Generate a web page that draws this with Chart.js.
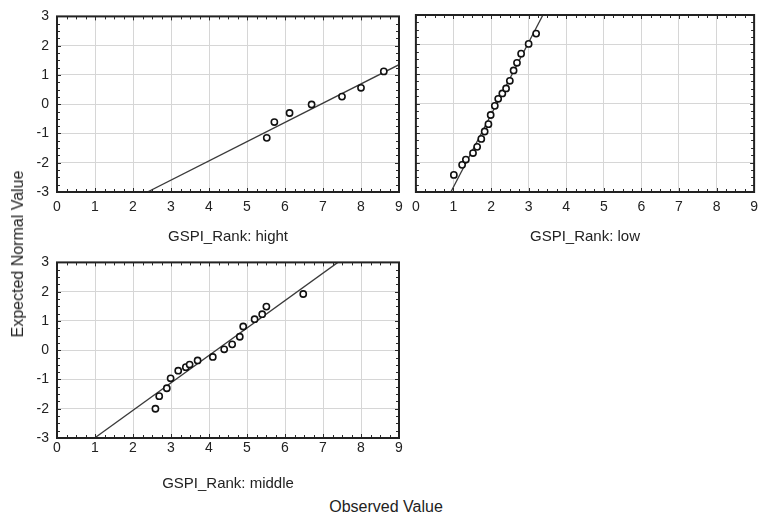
<!DOCTYPE html>
<html>
<head>
<meta charset="utf-8">
<script src="https://cdn.jsdelivr.net/npm/chart.js@4/dist/chart.umd.min.js"></script>
<style>
  html, body { margin: 0; padding: 0; background: #fff; }
  #wrap { position: relative; width: 770px; height: 518px; overflow: hidden; font-family: "Liberation Sans", Arial, sans-serif; color: #222; }
  canvas { position: absolute; }
  .lbl { position: absolute; font-size: 16px; white-space: nowrap; color: #222; }
</style>
</head>
<body>
<div id="wrap">
  <canvas id="c1" width="410" height="250" style="left:0px;top:0px;width:410px;height:250px"></canvas>
  <canvas id="c2" width="360" height="250" style="left:405px;top:0px;width:360px;height:250px"></canvas>
  <canvas id="c3" width="410" height="250" style="left:0px;top:246px;width:410px;height:250px"></canvas>
  <div class="lbl" id="ylab" style="left:18px;top:254px;transform:translate(-50%,-50%) rotate(-90deg);">Expected Normal Value</div>
  <div class="lbl" id="xlab" style="left:386px;top:507px;transform:translate(-50%,-50%);">Observed Value</div>
</div>
<script>
// ---- Data ----
const xTicks = [0, 1, 2, 3, 4, 5, 6, 7, 8, 9];
const yTicks = [-3, -2, -1, 0, 1, 2, 3];

const panelTitles = ["GSPI_Rank: hight", "GSPI_Rank: low", "GSPI_Rank: middle"];

const hightX = [5.52, 5.72, 6.12, 6.70, 7.50, 8.00, 8.60];
const hightY = [-1.15, -0.61, -0.30, -0.01, 0.26, 0.56, 1.12];
const hightLineX = [2.38, 9.0];
const hightLineY = [-3.0, 1.35];

const lowX = [1.01, 1.23, 1.33, 1.52, 1.63, 1.74, 1.83, 1.93, 1.99, 2.10, 2.19, 2.30, 2.40, 2.50, 2.60, 2.69, 2.80, 3.00, 3.20];
const lowY = [-2.42, -2.08, -1.90, -1.68, -1.47, -1.20, -0.95, -0.70, -0.39, -0.08, 0.16, 0.34, 0.51, 0.77, 1.12, 1.38, 1.69, 2.02, 2.37];
const lowLineX = [0.93, 3.38];
const lowLineY = [-3.0, 3.0];

const middleX = [2.59, 2.69, 2.89, 2.99, 3.19, 3.39, 3.49, 3.70, 4.10, 4.40, 4.61, 4.81, 4.90, 5.20, 5.40, 5.51, 6.48];
const middleY = [-2.00, -1.57, -1.30, -0.96, -0.70, -0.58, -0.49, -0.35, -0.23, 0.03, 0.20, 0.46, 0.81, 1.06, 1.23, 1.49, 1.92];
const middleLineX = [0.99, 7.39];
const middleLineY = [-3.0, 3.0];

// ---- helpers ----
const FONT = "'Liberation Sans', Arial, sans-serif";
const pts = (xs, ys) => xs.map((x, i) => ({ x: x, y: ys[i] }));

const frameTicks = {
  id: 'frameTicks',
  afterDatasetsDraw(chart) {
    const ctx = chart.ctx;
    const a = chart.chartArea;
    const xs = chart.scales.x, ys = chart.scales.y;
    ctx.save();
    ctx.strokeStyle = '#2a2a2a';
    ctx.lineWidth = 1;
    ctx.beginPath();
    for (let v = xs.min; v <= xs.max + 1e-9; v += 0.25) {
      const px = Math.round(xs.getPixelForValue(v)) + 0.5;
      const len = Math.abs(v - Math.round(v)) < 1e-9 ? 4 : 3;
      ctx.moveTo(px, a.bottom); ctx.lineTo(px, a.bottom - len);
      ctx.moveTo(px, a.top); ctx.lineTo(px, a.top + len);
    }
    for (let v = ys.min; v <= ys.max + 1e-9; v += 0.25) {
      const py = Math.round(ys.getPixelForValue(v)) + 0.5;
      const len = Math.abs(v - Math.round(v)) < 1e-9 ? 4 : 3;
      ctx.moveTo(a.left, py); ctx.lineTo(a.left + len, py);
      ctx.moveTo(a.right, py); ctx.lineTo(a.right - len, py);
    }
    ctx.stroke();
    ctx.lineWidth = 2;
    ctx.strokeStyle = '#222';
    ctx.strokeRect(a.left, a.top, a.right - a.left, a.bottom - a.top);
    ctx.restore();
  }
};

function makePanel(id, title, xs, ys, lx, ly, opts) {
  const ctx = document.getElementById(id);
  return new Chart(ctx, {
    type: 'scatter',
    data: {
      datasets: [
        {
          data: pts(xs, ys),
          order: 0,
          pointRadius: 3.1,
          pointHoverRadius: 3.1,
          pointBorderWidth: 1.6,
          pointBorderColor: '#111',
          pointBackgroundColor: '#fff',
          showLine: false
        },
        {
          type: 'line',
          data: pts(lx, ly),
          order: 1,
          borderColor: '#3a3a3a',
          borderWidth: 1.3,
          pointRadius: 0,
          fill: false,
          tension: 0
        }
      ]
    },
    options: {
      responsive: false,
      animation: false,
      devicePixelRatio: 1,
      events: [],
      layout: { padding: { top: 15, right: opts.padRight, bottom: 0, left: 0 } },
      plugins: { legend: { display: false }, tooltip: { enabled: false } },
      scales: {
        x: {
          type: 'linear',
          min: xTicks[0], max: xTicks[xTicks.length - 1],
          afterBuildTicks: s => { s.ticks = xTicks.map(v => ({ value: v })); },
          afterFit: s => { s.height = 58; },
          grid: { color: '#d6d6d6', lineWidth: 1, drawTicks: false },
          border: { display: false },
          ticks: { padding: opts.tickPad, color: '#222', font: { family: FONT, size: 14 }, maxRotation: 0, autoSkip: false },
          title: { display: true, text: title, color: '#222', font: { family: FONT, size: 15 }, padding: { top: 0, bottom: opts.titlePad } }
        },
        y: {
          type: 'linear',
          min: yTicks[0], max: yTicks[yTicks.length - 1],
          afterBuildTicks: s => { s.ticks = yTicks.map(v => ({ value: v })); },
          afterFit: s => { s.width = opts.yWidth; },
          grid: { color: '#d6d6d6', lineWidth: 1, drawTicks: false },
          border: { display: false },
          ticks: { display: opts.showY, padding: 8, color: '#222', font: { family: FONT, size: 14 } }
        }
      }
    },
    plugins: [frameTicks]
  });
}

makePanel('c1', panelTitles[0], hightX, hightY, hightLineX, hightLineY,
  { padRight: 11, yWidth: 57, showY: true, tickPad: 7, titlePad: 4 });
makePanel('c2', panelTitles[1], lowX, lowY, lowLineX, lowLineY,
  { padRight: 8, yWidth: 10, showY: false, tickPad: 7, titlePad: 4 });
makePanel('c3', panelTitles[2], middleX, middleY, middleLineX, middleLineY,
  { padRight: 11, yWidth: 57, showY: true, tickPad: 2, titlePad: 3 });
</script>
</body>
</html>
